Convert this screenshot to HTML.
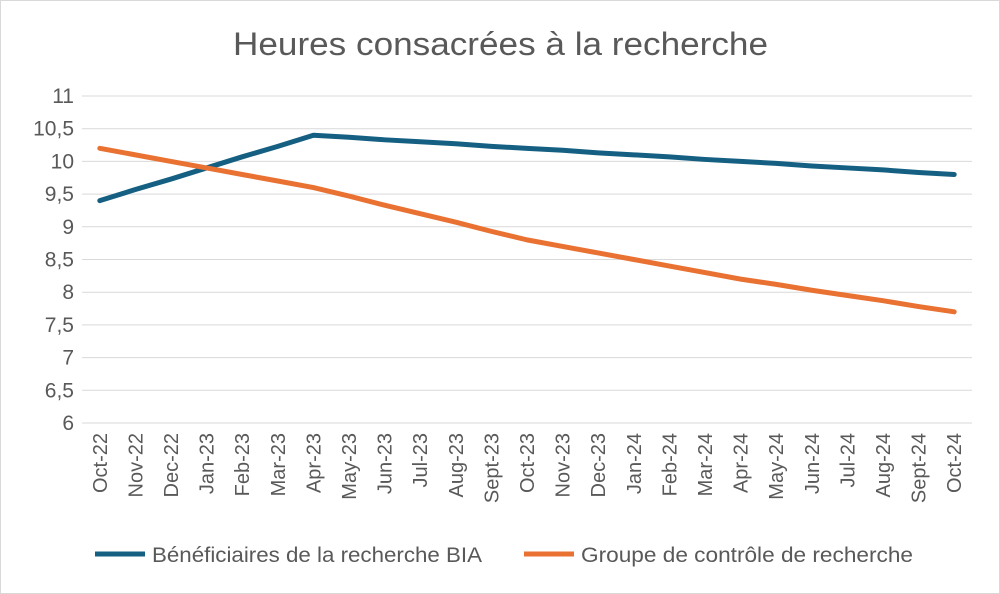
<!DOCTYPE html>
<html><head><meta charset="utf-8"><style>
body{margin:0;background:#fff;}
svg{display:block;font-family:"Liberation Sans",sans-serif;}
</style></head><body>
<svg id="chart" width="1000" height="594">
<rect x="0.5" y="0.5" width="999" height="593" fill="#fff" stroke="#d9d9d9"/>
<text x="233" y="55" font-size="32" fill="#595959" textLength="535" lengthAdjust="spacingAndGlyphs">Heures consacrées à la recherche</text>
<g id="grid"></g><g id="xlabels"></g><g id="series"></g>
<g>
<line x1="95" y1="554" x2="145" y2="554" stroke="#156082" stroke-width="5"/>
<text x="152" y="562" font-size="21" fill="#595959" textLength="330" lengthAdjust="spacingAndGlyphs">Bénéficiaires de la recherche BIA</text>
<line x1="524" y1="554" x2="574" y2="554" stroke="#e97132" stroke-width="5"/>
<text x="581" y="562" font-size="21" fill="#595959" textLength="332" lengthAdjust="spacingAndGlyphs">Groupe de contrôle de recherche</text>
</g>
</svg>
<script>
const categories=["Oct-22","Nov-22","Dec-22","Jan-23","Feb-23","Mar-23","Apr-23","May-23","Jun-23","Jul-23","Aug-23","Sept-23","Oct-23","Nov-23","Dec-23","Jan-24","Feb-24","Mar-24","Apr-24","May-24","Jun-24","Jul-24","Aug-24","Sept-24","Oct-24"];
const biaValues=[9.4,9.57,9.73,9.9,10.07,10.23,10.4,10.37,10.33,10.3,10.27,10.23,10.2,10.17,10.13,10.1,10.07,10.03,10.0,9.97,9.93,9.9,9.87,9.83,9.8];
const controlValues=[10.2,10.1,10.0,9.9,9.8,9.7,9.6,9.47,9.33,9.2,9.07,8.93,8.8,8.7,8.6,8.5,8.4,8.3,8.2,8.12,8.03,7.95,7.87,7.78,7.7];
const yTicks=[6,6.5,7,7.5,8,8.5,9,9.5,10,10.5,11];
const yTickLabels=["6","6,5","7","7,5","8","8,5","9","9,5","10","10,5","11"];
const NS="http://www.w3.org/2000/svg";
const L=82,R=972,T=96,B=423,yMin=6,yMax=11;
const bw=(R-L)/categories.length;
const x=i=>L+bw*(i+0.5);
const y=v=>B-(v-yMin)/(yMax-yMin)*(B-T);
function mk(tag,attrs,parent,text){const e=document.createElementNS(NS,tag);for(const k in attrs)e.setAttribute(k,attrs[k]);if(text!==undefined)e.textContent=text;parent.appendChild(e);return e;}
const grid=document.getElementById('grid');
yTicks.forEach((t,i)=>{
 const l=mk('line',{x1:L,x2:R,y1:y(t),y2:y(t),stroke:'#d9d9d9','stroke-width':1},grid);
 
 
 const tx=mk('text',{x:L-8,y:y(t)+7,'text-anchor':'end','font-size':21,fill:'#595959'},grid,yTickLabels[i]);
 
 
});
const xl=document.getElementById('xlabels');
categories.forEach((c,i)=>{
 const tx=mk('text',{x:0,y:0,'text-anchor':'end','font-size':20,fill:'#595959',transform:`translate(${x(i)+7},${B+10}) rotate(-90)`},xl,c);
 
 
});
const sg=document.getElementById('series');
[[biaValues,'#156082','series-bia'],[controlValues,'#e97132','series-control']].forEach(([vals,col,name])=>{
 const p=mk('polyline',{points:vals.map((v,i)=>x(i)+','+y(v)).join(' '),fill:'none',stroke:col,'stroke-width':5,'stroke-linejoin':'round','stroke-linecap':'round'},sg);
 
 
});
</script>
</body></html>
